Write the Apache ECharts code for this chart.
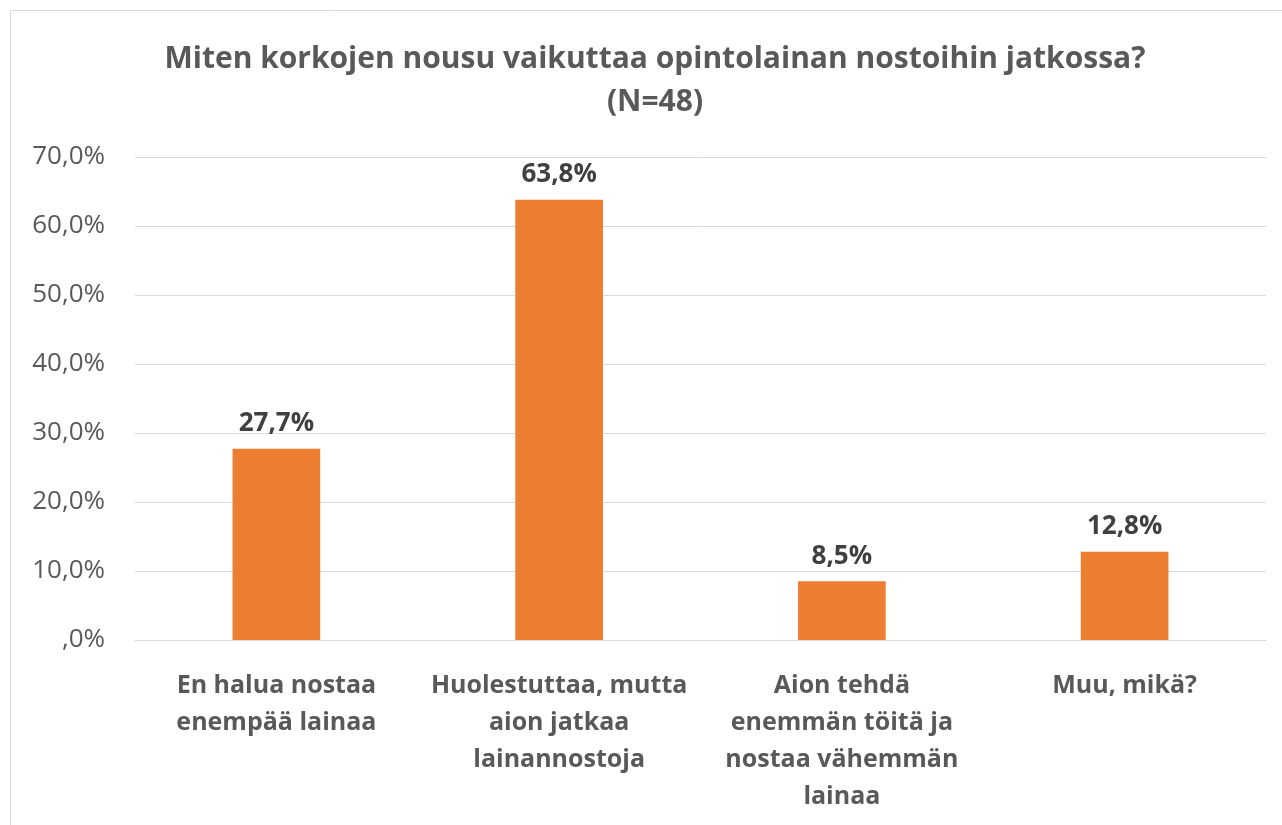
<!DOCTYPE html>
<html>
<head>
<meta charset="utf-8">
<script src="https://cdn.jsdelivr.net/npm/echarts@6/dist/echarts.min.js"></script>
<style>
  html, body { margin: 0; padding: 0; background: #fff; }
  #main { width: 1282px; height: 825px; }
</style>
</head>
<body>
<div id="main"></div>
<script>
var categories = [
  'En halua nostaa\nenempää lainaa',
  'Huolestuttaa, mutta\naion jatkaa\nlainannostoja',
  'Aion tehdä\nenemmän töitä ja\nnostaa vähemmän\nlainaa',
  'Muu, mikä?'
];
var values = [27.7, 63.8, 8.5, 12.8];
var yTicks = [0, 10, 20, 30, 40, 50, 60, 70];

function fmt(v, d) {
  var s = v.toFixed(d).replace('.', ',');
  if (s.indexOf('0,') === 0) s = s.substr(1);
  return s + '%';
}

var myChart = echarts.init(document.getElementById('main'));
var option = {
  backgroundColor: '#fff',
  animation: false,
  title: {
    text: 'Miten korkojen nousu vaikuttaa opintolainan nostoihin jatkossa?\n(N=48)',
    left: 650,
    textAlign: 'center',
    top: 33,
    textStyle: {
      fontFamily: 'Open Sans',
      fontSize: 30,
      fontWeight: 'bold',
      color: '#595959',
      lineHeight: 43
    }
  },
  graphic: [{
    type: 'rect',
    shape: { x: 10.5, y: 10.5, width: 1300, height: 900 },
    style: { fill: 'none', stroke: '#d9d9d9', lineWidth: 1 },
    silent: true
  }],
  grid: { left: 135, right: 16, top: 157, bottom: 185 },
  xAxis: {
    type: 'category',
    data: categories,
    axisTick: { show: false },
    axisLine: { lineStyle: { color: '#d9d9d9', width: 1 } },
    axisLabel: {
      interval: 0,
      margin: 27,
      fontFamily: 'Open Sans',
      fontSize: 25,
      fontWeight: 'bold',
      color: '#595959',
      lineHeight: 37
    }
  },
  yAxis: {
    type: 'value',
    min: yTicks[0],
    max: yTicks[yTicks.length - 1],
    interval: 10,
    axisLine: { show: false },
    axisTick: { show: false },
    splitLine: { lineStyle: { color: '#d9d9d9', width: 1 } },
    axisLabel: {
      margin: 30,
      fontFamily: 'Open Sans',
      fontSize: 26,
      color: '#595959',
      formatter: function (v) { return fmt(v, 1); }
    }
  },
  series: [{
    type: 'bar',
    data: values,
    barWidth: '31%',
    itemStyle: { color: '#ED7D31' },
    label: {
      show: true,
      position: 'top',
      distance: 12,
      fontFamily: 'Open Sans',
      fontSize: 26,
      fontWeight: 'bold',
      color: '#404040',
      formatter: function (p) { return fmt(p.value, 1); }
    }
  }]
};
myChart.setOption(option);
</script>
</body>
</html>
